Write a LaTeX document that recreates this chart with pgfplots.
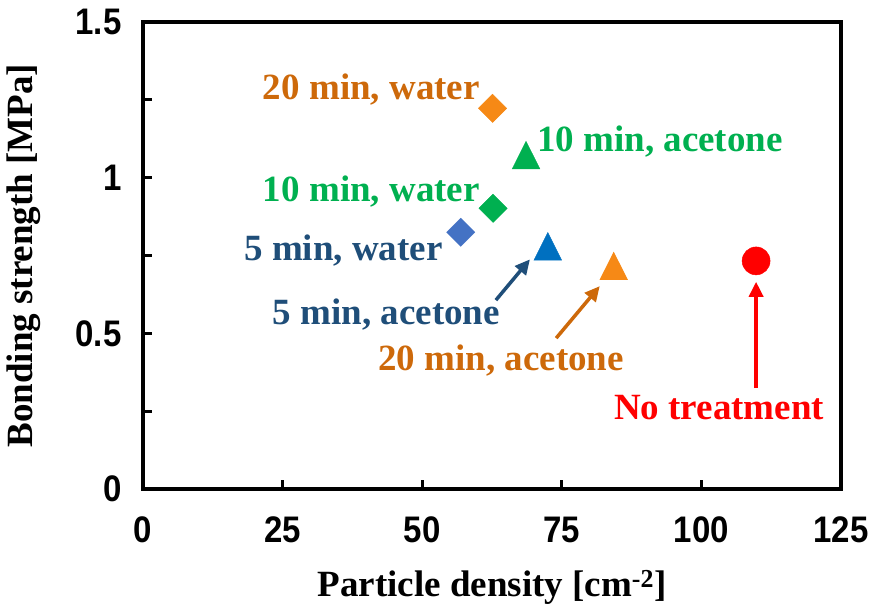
\documentclass[border=0pt]{standalone}
\usepackage{pgfplots}
\pgfplotsset{compat=1.18}
\usepackage{fontspec}
\setmainfont{Liberation Serif}
\newfontfamily\arialb{Liberation Sans}
\usetikzlibrary{arrows.meta}
\definecolor{morange}{RGB}{246,137,22}
\definecolor{torange}{RGB}{205,105,10}
\definecolor{mgreen}{RGB}{0,176,80}
\definecolor{mblue}{RGB}{68,114,196}
\definecolor{mblue2}{RGB}{0,112,192}
\definecolor{dblue}{RGB}{31,78,121}
\definecolor{mred}{RGB}{255,0,0}
\newcommand{\lab}{\fontsize{37}{40}\selectfont\bfseries}
\begin{document}
\begin{tikzpicture}
\begin{axis}[
  scale only axis,
  width=698pt, height=467pt,
  xmin=0, xmax=125, ymin=0, ymax=1.5,
  axis line style={line width=3.5pt, black},
  every tick/.style={line width=3pt, black},
  major tick length=9pt,
  tick align=inside,
  xtick pos=bottom, ytick pos=left,
  xtick={0,25,50,75,100,125},
  xticklabels={0,25,50,75,100,125},
  ytick={0,0.25,0.5,0.75,1,1.25,1.5},
  yticklabels={0,,0.5,,1,,1.5},
  tick label style={font=\arialb\fontsize{33}{36}\selectfont\bfseries},
  xticklabel style={yshift=-24pt, yscale=1.12},
  yticklabel style={xshift=-18pt, yscale=1.12},
  xlabel={Particle density [cm\textsuperscript{-2}]},
  ylabel={Bonding strength [MPa]},
  label style={font=\lab},
  xlabel style={yshift=-20pt},
  ylabel style={yshift=28pt},
  clip=false,
]
\addplot[only marks, mark=square*, mark size=10pt, mark options={rotate=45, draw=morange, fill=morange}] coordinates {(62.6,1.223)};
\addplot[only marks, mark=square*, mark size=10pt, mark options={rotate=45, draw=mgreen, fill=mgreen}] coordinates {(62.7,0.902)};
\addplot[only marks, mark=square*, mark size=10pt, mark options={rotate=45, draw=mblue, fill=mblue}] coordinates {(56.9,0.825)};
\addplot[only marks, mark=triangle*, mark size=16pt, mark options={yscale=1.15, draw=mgreen, fill=mgreen}] coordinates {(68.6,1.058)};
\addplot[only marks, mark=triangle*, mark size=16pt, mark options={yscale=1.15, draw=mblue2, fill=mblue2}] coordinates {(72.5,0.765)};
\addplot[only marks, mark=triangle*, mark size=16pt, mark options={yscale=1.15, draw=morange, fill=morange}] coordinates {(84.3,0.702)};
\addplot[only marks, mark=*, mark size=14pt, mark options={draw=mred, fill=mred}] coordinates {(109.8,0.733)};

\node[anchor=base east, inner sep=0pt, text=torange, font=\lab] at (axis cs:60.35,1.253) {20 min, water};
\node[anchor=base east, inner sep=0pt, text=mgreen, font=\lab] at (axis cs:60.35,0.925) {10 min, water};
\node[anchor=base west, inner sep=0pt, text=mgreen, font=\lab] at (axis cs:70.56,1.083) {10 min, acetone};
\node[anchor=base east, inner sep=0pt, text=dblue, font=\lab] at (axis cs:53.7,0.734) {5 min, water};
\node[anchor=base west, inner sep=0pt, text=dblue, font=\lab] at (axis cs:23.2,0.530) {5 min, acetone};
\node[anchor=base west, inner sep=0pt, text=torange, font=\lab] at (axis cs:42.1,0.382) {20 min, acetone};
\node[anchor=base west, inner sep=0pt, text=mred, font=\lab] at (axis cs:84.35,0.225) {No treatment};

\draw[dblue, line width=3.5pt, -{Triangle[length=15pt,width=14pt]}] (axis cs:63.2,0.607) -- (axis cs:69.3,0.738);
\draw[torange, line width=3.5pt, -{Triangle[length=15pt,width=14pt]}] (axis cs:74.0,0.485) -- (axis cs:81.8,0.652);
\draw[mred, line width=3.5pt, -{Triangle[length=15pt,width=14pt]}] (axis cs:109.8,0.324) -- (axis cs:109.8,0.666);

\coordinate (bl) at (axis cs:-25.6,-0.376);
\coordinate (tr) at (axis cs:131.45,1.571);
\end{axis}
\pgfresetboundingbox
\path[use as bounding box] (bl) rectangle (tr);
\end{tikzpicture}
\end{document}
